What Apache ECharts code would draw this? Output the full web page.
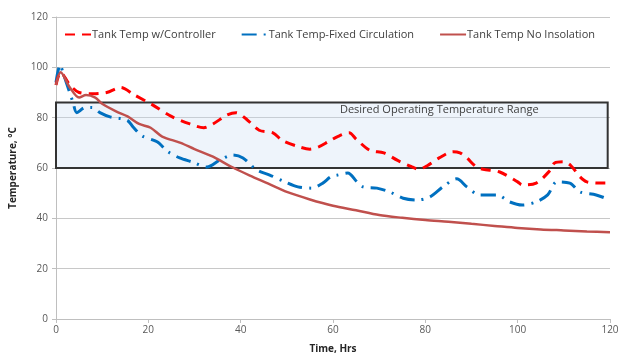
<!DOCTYPE html>
<html>
<head>
<meta charset="utf-8">
<script src="https://cdn.jsdelivr.net/npm/echarts@6/dist/echarts.min.js"></script>
<style>html,body{margin:0;padding:0;background:#fff}#c{width:620px;height:358px}</style>
</head>
<body>
<div id="c"></div>
<script>
// Tank Temp w/Controller
const hoursCtrl = [0,1,3,5,8,11,14,17,21,25,29,32,34,37,39,41.5,44,47,49,52.5,55,57,59,61,63.5,65,68,71,74,77,78.5,80.5,83,86,87.5,89,91,92.5,96,100,101,104,107,108,110,111.5,113.5,115,118,120];
const tempCtrl  = [93,98,93,90,89.5,90,92,89,85,80.5,77.5,76,77.5,81,82,79,75,74,71,68.5,67.5,68.5,70.5,72.5,74,71.5,67,66,63,60.5,59.5,61,64,66.5,66,64,60.5,59.5,58.5,54.5,53.3,54,59,62,62.5,61,56.5,54.5,54,54];
// Tank Temp-Fixed Circulation
const hoursFixed = [0,0.9,1.5,3.7,4.5,6.3,7.8,9.5,11.7,15.4,16.7,18.6,21.9,24.3,26.8,29.5,32.7,35.5,38.3,40.5,43.5,46.3,49.6,52.4,55.4,57.8,59.5,61,63.2,65.2,66.5,69.5,72.3,75.2,78.2,81,83.8,86.8,89,91.8,95.5,98.3,101,104,106.5,108.5,111.3,113.5,117,120];
const tempFixed  = [94,101,98,86,82,84,84,82,80.3,79,76.3,72.8,70.4,66.4,64,62.4,60.4,63.2,65.2,64,59.2,57.2,54.5,52.5,52,54,56.5,57.2,58,54.5,52.5,52,50.5,48,47.3,48.5,52.5,55.7,52.5,49.3,49.3,46.5,45.3,46.5,49.3,54.5,54,50.5,49.3,47.3];
// Tank Temp No Insolation
const hoursNoIns = [0,1,3,5,6.5,8.5,10,13,15.5,18,20.5,23,27,30,34,38,42,46,50,55,60,65,70,75,80,85,90,95,100,105,110,115,120];
const tempNoIns  = [93,98,92,88,89,88,85.5,82.5,80.5,77.5,76,72.5,70,67.5,64.5,60.5,57,53.8,50.5,47.5,45,43.2,41.3,40.2,39.3,38.6,37.8,37,36.2,35.6,35.2,34.8,34.5];
const seriesNames = ['Tank Temp w/Controller','Tank Temp-Fixed Circulation','Tank Temp No Insolation'];
const bandLow = 60, bandHigh = 86, bandEnd = 119.5;
const bandLabel = 'Desired Operating Temperature Range';
const xTicks = [0,20,40,60,80,100,120];
const yTicks = [0,20,40,60,80,100,120];

const pair = (xs, ys) => xs.map((x, i) => [x, ys[i]]);
const font = 'Open Sans';
const chart = echarts.init(document.getElementById('c'));
chart.setOption({
  animation: false,
  textStyle: {fontFamily: font},
  grid: {left: 56, right: 10, top: 17, bottom: 39, containLabel: false, outerBoundsMode: 'none'},
  legend: {
    top: 24, left: 59, itemGap: 25, itemWidth: 26, itemHeight: 4,
    itemStyle: {opacity: 0},
    textStyle: {fontFamily: font, fontSize: 11, color: '#404040', padding: [0, 0, 0, -4]},
    data: seriesNames
  },
  xAxis: {
    type: 'value', min: xTicks[0], max: xTicks[xTicks.length-1], interval: 20,
    name: 'Time, Hrs', nameLocation: 'middle', nameGap: 25,
    nameTextStyle: {fontWeight: 'bold', fontSize: 10, color: '#262626', fontFamily: font},
    axisLine: {lineStyle: {color: '#BFBFBF'}},
    axisTick: {show: true, length: 4, lineStyle: {color: '#BFBFBF'}},
    axisLabel: {fontSize: 10, color: '#595959', margin: 6, fontFamily: font},
    splitLine: {show: false}
  },
  yAxis: {
    type: 'value', min: yTicks[0], max: yTicks[yTicks.length-1], interval: 20,
    name: 'Temperature, °C', nameLocation: 'middle', nameGap: 38, nameRotate: 90,
    nameTextStyle: {fontWeight: 'bold', fontSize: 10, color: '#262626', fontFamily: font},
    axisLine: {show: true, lineStyle: {color: '#BFBFBF'}},
    axisTick: {show: true, length: 4, lineStyle: {color: '#BFBFBF'}},
    axisLabel: {fontSize: 10, color: '#595959', margin: 8, fontFamily: font},
    splitLine: {lineStyle: {color: '#C8C8C8'}}
  },
  series: [
    {
      name: seriesNames[0], type: 'line', data: pair(hoursCtrl, tempCtrl),
      smooth: 0.3, symbol: 'none', z: 4,
      lineStyle: {color: '#FF0000', width: 3, type: [10, 7]},
      itemStyle: {color: '#FF0000'},
      markArea: {
        silent: true,
        itemStyle: {color: 'rgba(198,220,242,0.3)', borderColor: '#333333', borderWidth: 2},
        label: {show: true, position: ['69.4%', 3], align: 'center', verticalAlign: 'top',
                fontSize: 11, color: '#404040', fontFamily: font},
        data: [[{xAxis: 0, yAxis: bandLow, name: bandLabel}, {xAxis: bandEnd, yAxis: bandHigh}]]
      }
    },
    {
      name: seriesNames[1], type: 'line', data: pair(hoursFixed, tempFixed),
      smooth: 0.3, symbol: 'none', z: 3,
      lineStyle: {color: '#0070C0', width: 3, type: [15, 7, 2, 7]},
      itemStyle: {color: '#0070C0'}
    },
    {
      name: seriesNames[2], type: 'line', data: pair(hoursNoIns, tempNoIns),
      smooth: 0.3, symbol: 'none', z: 5,
      lineStyle: {color: '#C0504D', width: 2.5},
      itemStyle: {color: '#C0504D'}
    }
  ]
});
</script>
</body>
</html>
